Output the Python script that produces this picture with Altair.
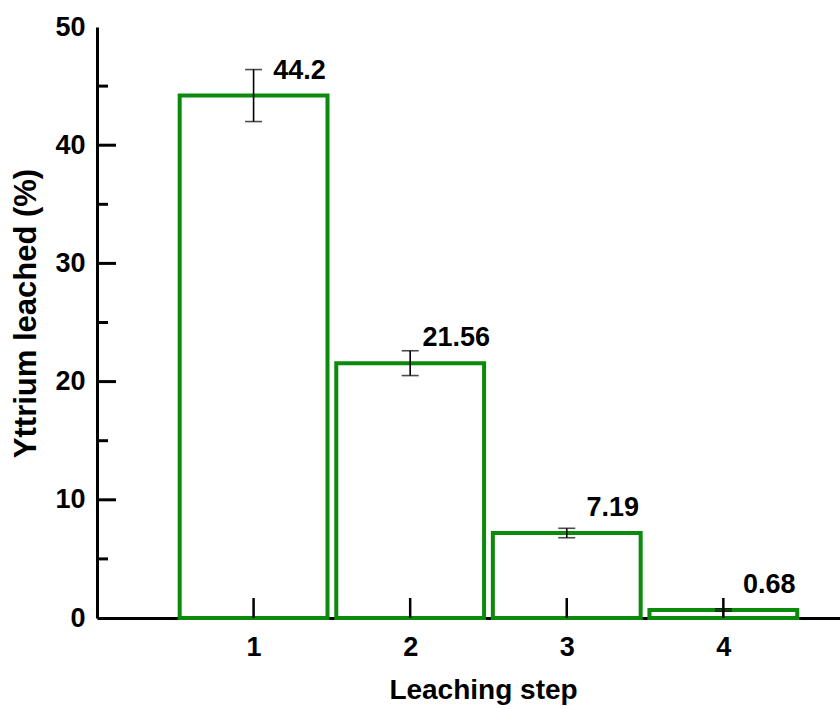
import altair as alt
import pandas as pd

# Leaching results per step
steps = [1, 2, 3, 4]
leached = [44.2, 21.56, 7.19, 0.68]
errors = [2.2, 1.05, 0.4, 0.1]
value_labels = ["44.2", "21.56", "7.19", "0.68"]

major_ticks = [10, 20, 30, 40]
minor_ticks = [5, 15, 25, 35, 45]

HALF_BAR = 0.472
GREEN = "#0b8a0b"
FONT = "Liberation Sans"
W, H = 743, 591

df = pd.DataFrame({
    "step": steps,
    "leached": leached,
    "err": errors,
    "label": value_labels,
})
df["x0"] = df["step"] - HALF_BAR
df["x1"] = df["step"] + HALF_BAR
df["lo"] = df["leached"] - df["err"]
df["hi"] = df["leached"] + df["err"]

x_scale = alt.Scale(domain=[0, 4.745], nice=False, zero=False)
y_scale = alt.Scale(domain=[0, 50], nice=False)

base = alt.Chart(df)

bars = base.mark_rect(fill="white", stroke=GREEN, strokeWidth=4).encode(
    x=alt.X("x0:Q", scale=x_scale,
            axis=alt.Axis(values=steps, format="d", title="Leaching step", ticks=False,
                          grid=False, labelPadding=16, titlePadding=16,
                          titleX=386, labelFontSize=27, titleFontSize=28)),
    x2="x1:Q",
    y=alt.Y("leached:Q", scale=y_scale,
            axis=alt.Axis(values=[0, 10, 20, 30, 40, 50], title="Yttrium leached (%)",
                          ticks=False, grid=False, labelPadding=12, titlePadding=12,
                          titleY=286, labelFontSize=27, titleFontSize=31)),
    y2=alt.datum(0),
)

err_rule = base.mark_rule(color="black", strokeWidth=1.6).encode(
    x=alt.X("step:Q", scale=x_scale),
    y=alt.Y("lo:Q", scale=y_scale),
    y2="hi:Q",
)
cap_lo = base.mark_tick(color="black", orient="horizontal", size=17, thickness=1.6).encode(
    x=alt.X("step:Q", scale=x_scale),
    y=alt.Y("lo:Q", scale=y_scale),
)
cap_hi = base.mark_tick(color="black", orient="horizontal", size=17, thickness=1.6).encode(
    x=alt.X("step:Q", scale=x_scale),
    y=alt.Y("hi:Q", scale=y_scale),
)

texts = base.mark_text(font=FONT, fontWeight="bold", fontSize=27, color="black",
                       align="center", baseline="middle", dx=46, dy=-25).encode(
    x=alt.X("step:Q", scale=x_scale),
    y=alt.Y("leached:Q", scale=y_scale),
    text="label:N",
)

# inward-pointing tick marks on both axes
xt = alt.Chart(pd.DataFrame({"step": steps})).mark_rule(color="black", strokeWidth=2.5).encode(
    x=alt.X("step:Q", scale=x_scale),
    y=alt.value(H),
    y2=alt.value(H - 20),
)
ymaj = alt.Chart(pd.DataFrame({"v": major_ticks})).mark_rule(color="black", strokeWidth=3).encode(
    y=alt.Y("v:Q", scale=y_scale),
    x=alt.value(0),
    x2=alt.value(19),
)
ymin = alt.Chart(pd.DataFrame({"v": minor_ticks})).mark_rule(color="black", strokeWidth=3).encode(
    y=alt.Y("v:Q", scale=y_scale),
    x=alt.value(0),
    x2=alt.value(11),
)

chart = alt.layer(bars, err_rule, cap_lo, cap_hi, texts, xt, ymaj, ymin).properties(
    width=W,
    height=H,
    autosize=alt.AutoSizeParams(type="none"),
    padding={"left": 97, "top": 27, "right": 0, "bottom": 91},
    background="white",
).configure_view(stroke=None).configure_axis(
    domainColor="black",
    domainWidth=3,
    labelFont=FONT,
    labelFontWeight="bold",
    labelColor="black",
    titleFont=FONT,
    titleFontWeight="bold",
    titleColor="black",
)

chart.save("out.html", embed_options={"renderer": "svg", "actions": False})
